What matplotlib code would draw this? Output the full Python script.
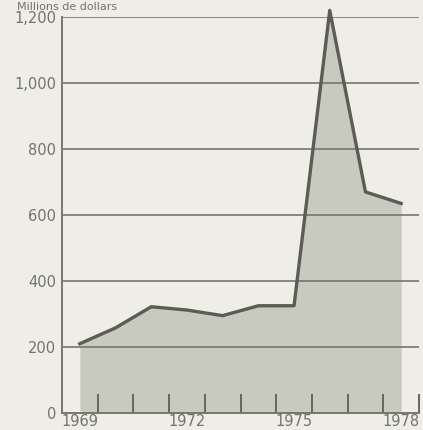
import matplotlib
matplotlib.use("Agg")
import matplotlib.pyplot as plt

anos = [1969, 1970, 1971, 1972, 1973, 1974, 1975, 1976, 1977, 1978]
valores = [210, 258, 322, 312, 295, 325, 325, 1220, 670, 635]
rotulos_x = [1969, 1972, 1975, 1978]
rotulos_y = [0, 200, 400, 600, 800, 1000, 1200]

fundo = "#eeeee6"
cinza_linha = "#5c5c55"
cinza_texto = "#74746e"

fig = plt.figure(figsize=(4.23, 4.30), dpi=100, facecolor=fundo)
ax = fig.add_axes([62 / 423, 17 / 430, (419 - 62) / 423, 396 / 430])
ax.set_facecolor(fundo)

ax.fill_between(anos, valores, 0, color="#c8c9bf", linewidth=0, clip_on=False)
ax.plot(anos, valores, color=cinza_linha, linewidth=2.4, solid_joinstyle="round", clip_on=False)

ax.set_xlim(1968.5, 1978.5)
ax.set_ylim(0, 1200)

for v in rotulos_y[1:]:
    ax.axhline(v, color="#76766f", linewidth=1.2, zorder=1)

ax.set_yticks(rotulos_y)
ax.set_yticklabels([f"{v:,}" for v in rotulos_y], fontsize=10.5, color=cinza_texto)
ax.tick_params(axis="y", length=0, pad=4)

ax.set_xticks(rotulos_x)
ax.set_xticklabels([str(a) for a in rotulos_x], fontsize=10.5, color=cinza_texto)
ax.set_xticks([a + 0.5 for a in anos[:-1]] + [1978.5], minor=True)
ax.tick_params(axis="x", which="major", length=0, pad=1)
ax.tick_params(axis="x", which="minor", direction="in", length=14, width=1.4, color="#66665f")

for lado in ["top", "right"]:
    ax.spines[lado].set_visible(False)
for lado in ["left", "bottom"]:
    ax.spines[lado].set_color("#76766f")
    ax.spines[lado].set_linewidth(1.4)

fig.text(17 / 423, 1 - 2 / 430, "Millions de dollars", fontsize=8, color=cinza_texto, va="top")

fig.savefig("out.png", dpi=100, facecolor=fundo)
